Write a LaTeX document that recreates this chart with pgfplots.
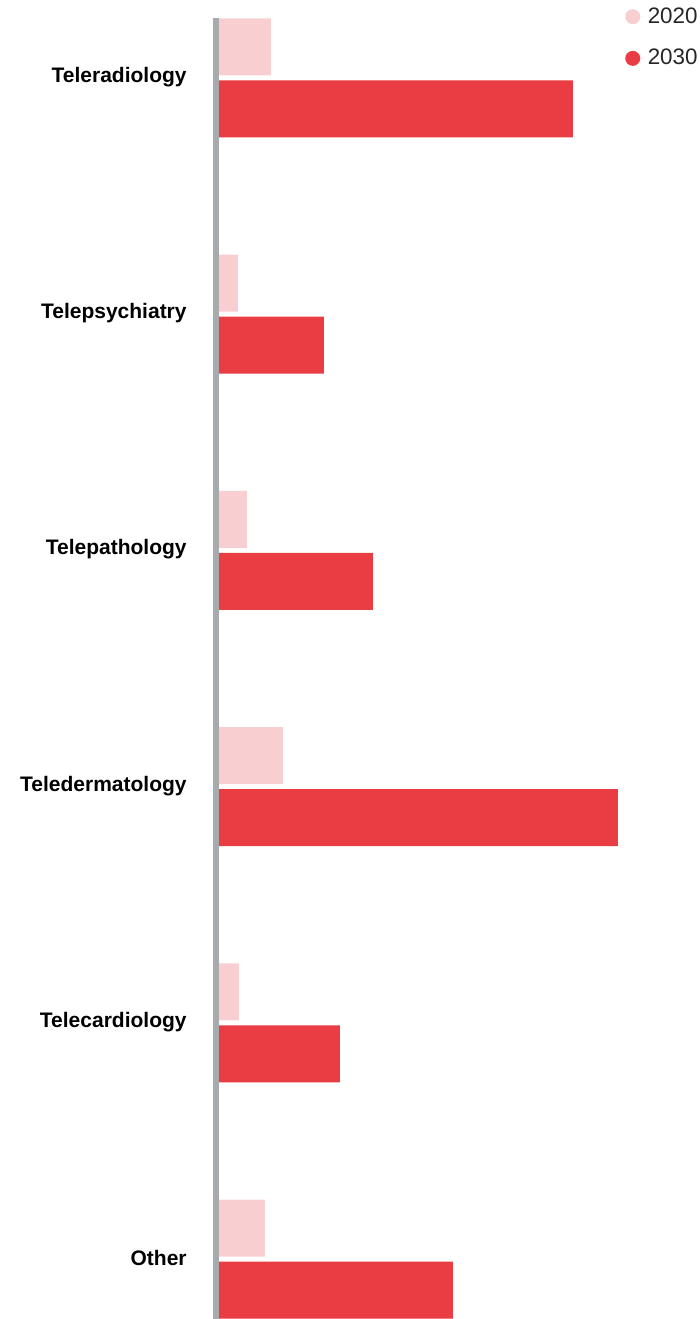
\documentclass[border=0pt]{standalone}
\usepackage{fontspec}
\setmainfont{Liberation Sans}
\usepackage{pgfplots}
\pgfplotsset{compat=1.18}
\definecolor{c20}{HTML}{F9CED1}
\definecolor{c30}{HTML}{E93C43}
\definecolor{axgray}{HTML}{A8ABAE}
\begin{document}
\begin{tikzpicture}
\begin{axis}[name=ax, scale only axis, width=242pt, height=650.5pt,
  xbar, xmin=0, xmax=484, ymin=-0.253, ymax=5.253, y dir=reverse,
  axis x line=none, axis y line*=left,
  y axis line style={draw=axgray, line width=3pt, -},
  axis on top,
  ytick={0,1,2,3,4,5},
  yticklabels={Teleradiology,Telepsychiatry,Telepathology,Teledermatology,Telecardiology,Other},
  major tick length=0pt,
  yticklabel style={font=\bfseries\fontsize{10.5}{12}\selectfont, anchor=east, inner sep=0pt, xshift=-14.5pt, yshift=0.5pt},
  bar width=28.5pt,
  legend style={at={(1,1)}, anchor=north east, draw=none, fill=none, inner sep=0pt,
    font=\fontsize{11.2}{13}\selectfont, text=black!85, row sep=7.5pt, yshift=7.5pt, xshift=1pt},
  legend cell align=left,
]
\addplot[fill=c20, draw=none, bar shift=15.5pt,
  legend image code/.code={\fill[c20] (0pt,0pt) circle (3.75pt); \path (0pt,0pt) -- (5.5pt,0pt);}]
  coordinates {(55,0) (22,1) (31,2) (67,3) (23,4) (49,5)};
\addlegendentry{2020}
\addplot[fill=c30, draw=none, bar shift=-15.5pt,
  legend image code/.code={\fill[c30] (0pt,0pt) circle (3.75pt); \path (0pt,0pt) -- (5.5pt,0pt);}]
  coordinates {(357,0) (108,1) (157,2) (402,3) (124,4) (237,5)};
\addlegendentry{2030}
\end{axis}
\pgfresetboundingbox
\path ([xshift=-108pt]ax.south west) rectangle ([yshift=9pt]ax.north east);
\end{tikzpicture}
\end{document}
